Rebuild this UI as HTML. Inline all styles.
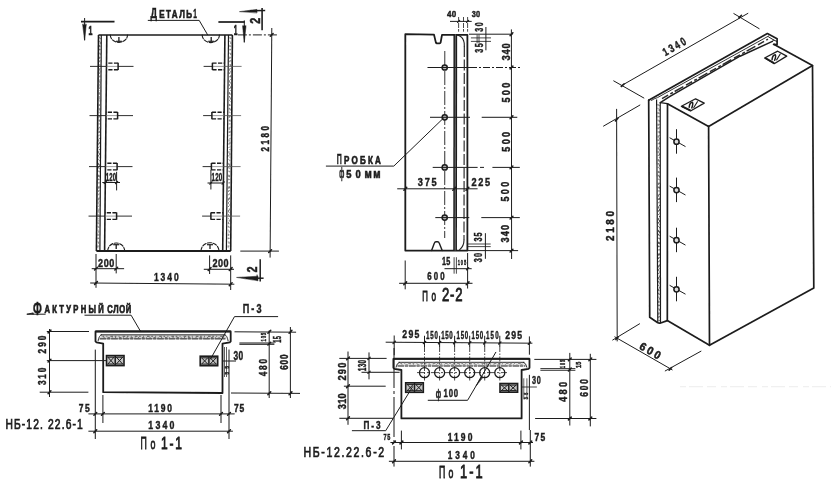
<!DOCTYPE html>
<html><head><meta charset="utf-8"><title>drawing</title>
<style>
html,body{margin:0;padding:0;background:#fff;}
body{width:831px;height:485px;overflow:hidden;font-family:"Liberation Sans",sans-serif;}
svg{display:block;}
svg text{font-family:"Liberation Sans",sans-serif;}
</style></head><body>
<svg width="831" height="485" viewBox="0 0 831 485">
<defs><filter id="soft" x="0" y="0" width="831" height="485" filterUnits="userSpaceOnUse"><feGaussianBlur stdDeviation="0.35"/></filter></defs>
<rect width="831" height="485" fill="#ffffff"/>
<g filter="url(#soft)">
<line x1="98.5" y1="35.0" x2="96.4" y2="251.0" stroke="#1c1c1c" stroke-width="1.6" stroke-linecap="butt"/>
<line x1="101.3" y1="35.0" x2="99.9" y2="251.0" stroke="#1c1c1c" stroke-width="1.2" stroke-linecap="butt"/>
<line x1="106.8" y1="35.0" x2="104.6" y2="251.0" stroke="#1c1c1c" stroke-width="1.6" stroke-linecap="butt"/>
<line x1="224.9" y1="35.0" x2="222.7" y2="251.0" stroke="#1c1c1c" stroke-width="1.6" stroke-linecap="butt"/>
<line x1="228.5" y1="35.0" x2="226.4" y2="251.0" stroke="#1c1c1c" stroke-width="1.2" stroke-linecap="butt"/>
<line x1="232.4" y1="35.0" x2="230.7" y2="251.0" stroke="#1c1c1c" stroke-width="1.6" stroke-linecap="butt"/>
<line x1="99.6" y1="37.0" x2="97.8" y2="249.0" stroke="#555" stroke-width="0.8" stroke-dasharray="1.6 2.3 0.9 3.1 2.2 1.7" stroke-linecap="butt"/>
<line x1="100.4" y1="38.0" x2="98.7" y2="249.0" stroke="#555" stroke-width="0.8" stroke-dasharray="1.1 2.9 2.0 1.9 0.7 2.5" stroke-linecap="butt"/>
<line x1="230.0" y1="37.0" x2="228.1" y2="249.0" stroke="#555" stroke-width="0.8" stroke-dasharray="1.6 2.3 0.9 3.1 2.2 1.7" stroke-linecap="butt"/>
<line x1="230.9" y1="38.0" x2="229.0" y2="249.0" stroke="#555" stroke-width="0.8" stroke-dasharray="1.1 2.9 2.0 1.9 0.7 2.5" stroke-linecap="butt"/>
<line x1="98.5" y1="35.0" x2="232.4" y2="35.0" stroke="#1c1c1c" stroke-width="1.6" stroke-linecap="butt"/>
<line x1="96.4" y1="251.0" x2="230.7" y2="251.0" stroke="#1c1c1c" stroke-width="1.8" stroke-linecap="butt"/>
<path d="M110.3 35 A8.6 7.4 0 0 0 127.5 35" fill="none" stroke="#1c1c1c" stroke-width="1.1" stroke-dasharray="4 1.5" stroke-linejoin="round" stroke-linecap="round"/>
<path d="M202.2 35 A8.6 7.6 0 0 0 219.4 35" fill="none" stroke="#1c1c1c" stroke-width="1.1" stroke-dasharray="4 1.5" stroke-linejoin="round" stroke-linecap="round"/>
<path d="M107.7 251 A8.5 8 0 0 1 124.7 251" fill="none" stroke="#1c1c1c" stroke-width="1.1" stroke-dasharray="4 1.5" stroke-linejoin="round" stroke-linecap="round"/>
<path d="M201 251 A9 8.3 0 0 1 219 251" fill="none" stroke="#1c1c1c" stroke-width="1.1" stroke-dasharray="4 1.5" stroke-linejoin="round" stroke-linecap="round"/>
<line x1="118.9" y1="37.0" x2="118.9" y2="41.3" stroke="#1c1c1c" stroke-width="1.3" stroke-linecap="butt"/>
<line x1="115.9" y1="41.3" x2="121.9" y2="41.3" stroke="#1c1c1c" stroke-width="1.2" stroke-linecap="butt"/>
<line x1="211.2" y1="37.0" x2="211.2" y2="41.3" stroke="#1c1c1c" stroke-width="1.3" stroke-linecap="butt"/>
<line x1="208.2" y1="41.3" x2="214.2" y2="41.3" stroke="#1c1c1c" stroke-width="1.2" stroke-linecap="butt"/>
<line x1="116.2" y1="249.0" x2="116.2" y2="244.7" stroke="#1c1c1c" stroke-width="1.3" stroke-linecap="butt"/>
<line x1="113.2" y1="244.7" x2="119.2" y2="244.7" stroke="#1c1c1c" stroke-width="1.2" stroke-linecap="butt"/>
<line x1="210.0" y1="249.0" x2="210.0" y2="244.7" stroke="#1c1c1c" stroke-width="1.3" stroke-linecap="butt"/>
<line x1="207.0" y1="244.7" x2="213.0" y2="244.7" stroke="#1c1c1c" stroke-width="1.2" stroke-linecap="butt"/>
<line x1="90.0" y1="66.4" x2="106.5" y2="66.4" stroke="#1c1c1c" stroke-width="0.9" stroke-linecap="butt"/>
<line x1="106.5" y1="66.4" x2="118.1" y2="66.4" stroke="#777" stroke-width="0.7" stroke-linecap="butt"/>
<line x1="118.1" y1="66.4" x2="133.5" y2="66.4" stroke="#1c1c1c" stroke-width="0.9" stroke-linecap="butt"/>
<line x1="118.1" y1="62.8" x2="118.1" y2="70.0" stroke="#1c1c1c" stroke-width="1.5" stroke-linecap="butt"/>
<line x1="118.1" y1="63.1" x2="106.5" y2="63.1" stroke="#1c1c1c" stroke-width="1.4" stroke-dasharray="4.2 1.4" stroke-linecap="butt"/>
<line x1="118.1" y1="69.7" x2="106.5" y2="69.7" stroke="#1c1c1c" stroke-width="1.4" stroke-dasharray="4.2 1.4" stroke-linecap="butt"/>
<line x1="203.6" y1="66.4" x2="212.6" y2="66.4" stroke="#1c1c1c" stroke-width="0.9" stroke-linecap="butt"/>
<line x1="212.6" y1="66.4" x2="224.6" y2="66.4" stroke="#777" stroke-width="0.7" stroke-linecap="butt"/>
<line x1="224.6" y1="66.4" x2="241.6" y2="66.4" stroke="#555" stroke-width="0.8" stroke-linecap="butt"/>
<line x1="212.4" y1="62.8" x2="212.4" y2="70.0" stroke="#1c1c1c" stroke-width="1.5" stroke-linecap="butt"/>
<line x1="212.4" y1="63.1" x2="224.6" y2="63.1" stroke="#1c1c1c" stroke-width="1.4" stroke-dasharray="4.2 1.4" stroke-linecap="butt"/>
<line x1="212.4" y1="69.7" x2="224.6" y2="69.7" stroke="#1c1c1c" stroke-width="1.4" stroke-dasharray="4.2 1.4" stroke-linecap="butt"/>
<line x1="89.5" y1="115.6" x2="106.0" y2="115.6" stroke="#1c1c1c" stroke-width="0.9" stroke-linecap="butt"/>
<line x1="106.0" y1="115.6" x2="117.6" y2="115.6" stroke="#777" stroke-width="0.7" stroke-linecap="butt"/>
<line x1="117.6" y1="115.6" x2="133.0" y2="115.6" stroke="#1c1c1c" stroke-width="0.9" stroke-linecap="butt"/>
<line x1="117.6" y1="112.0" x2="117.6" y2="119.2" stroke="#1c1c1c" stroke-width="1.5" stroke-linecap="butt"/>
<line x1="117.6" y1="112.3" x2="106.0" y2="112.3" stroke="#1c1c1c" stroke-width="1.4" stroke-dasharray="4.2 1.4" stroke-linecap="butt"/>
<line x1="117.6" y1="118.9" x2="106.0" y2="118.9" stroke="#1c1c1c" stroke-width="1.4" stroke-dasharray="4.2 1.4" stroke-linecap="butt"/>
<line x1="203.1" y1="115.6" x2="212.1" y2="115.6" stroke="#1c1c1c" stroke-width="0.9" stroke-linecap="butt"/>
<line x1="212.1" y1="115.6" x2="224.1" y2="115.6" stroke="#777" stroke-width="0.7" stroke-linecap="butt"/>
<line x1="224.1" y1="115.6" x2="241.1" y2="115.6" stroke="#555" stroke-width="0.8" stroke-linecap="butt"/>
<line x1="211.9" y1="112.0" x2="211.9" y2="119.2" stroke="#1c1c1c" stroke-width="1.5" stroke-linecap="butt"/>
<line x1="211.9" y1="112.3" x2="224.1" y2="112.3" stroke="#1c1c1c" stroke-width="1.4" stroke-dasharray="4.2 1.4" stroke-linecap="butt"/>
<line x1="211.9" y1="118.9" x2="224.1" y2="118.9" stroke="#1c1c1c" stroke-width="1.4" stroke-dasharray="4.2 1.4" stroke-linecap="butt"/>
<line x1="89.0" y1="166.6" x2="105.5" y2="166.6" stroke="#1c1c1c" stroke-width="0.9" stroke-linecap="butt"/>
<line x1="105.5" y1="166.6" x2="117.1" y2="166.6" stroke="#777" stroke-width="0.7" stroke-linecap="butt"/>
<line x1="117.1" y1="166.6" x2="132.5" y2="166.6" stroke="#1c1c1c" stroke-width="0.9" stroke-linecap="butt"/>
<line x1="117.1" y1="163.0" x2="117.1" y2="170.2" stroke="#1c1c1c" stroke-width="1.5" stroke-linecap="butt"/>
<line x1="117.1" y1="163.3" x2="105.5" y2="163.3" stroke="#1c1c1c" stroke-width="1.4" stroke-dasharray="4.2 1.4" stroke-linecap="butt"/>
<line x1="117.1" y1="169.9" x2="105.5" y2="169.9" stroke="#1c1c1c" stroke-width="1.4" stroke-dasharray="4.2 1.4" stroke-linecap="butt"/>
<line x1="202.6" y1="166.6" x2="211.6" y2="166.6" stroke="#1c1c1c" stroke-width="0.9" stroke-linecap="butt"/>
<line x1="211.6" y1="166.6" x2="223.6" y2="166.6" stroke="#777" stroke-width="0.7" stroke-linecap="butt"/>
<line x1="223.6" y1="166.6" x2="240.6" y2="166.6" stroke="#555" stroke-width="0.8" stroke-linecap="butt"/>
<line x1="211.4" y1="163.0" x2="211.4" y2="170.2" stroke="#1c1c1c" stroke-width="1.5" stroke-linecap="butt"/>
<line x1="211.4" y1="163.3" x2="223.6" y2="163.3" stroke="#1c1c1c" stroke-width="1.4" stroke-dasharray="4.2 1.4" stroke-linecap="butt"/>
<line x1="211.4" y1="169.9" x2="223.6" y2="169.9" stroke="#1c1c1c" stroke-width="1.4" stroke-dasharray="4.2 1.4" stroke-linecap="butt"/>
<line x1="88.5" y1="216.1" x2="105.0" y2="216.1" stroke="#1c1c1c" stroke-width="0.9" stroke-linecap="butt"/>
<line x1="105.0" y1="216.1" x2="116.6" y2="216.1" stroke="#777" stroke-width="0.7" stroke-linecap="butt"/>
<line x1="116.6" y1="216.1" x2="132.0" y2="216.1" stroke="#1c1c1c" stroke-width="0.9" stroke-linecap="butt"/>
<line x1="116.6" y1="212.5" x2="116.6" y2="219.7" stroke="#1c1c1c" stroke-width="1.5" stroke-linecap="butt"/>
<line x1="116.6" y1="212.8" x2="105.0" y2="212.8" stroke="#1c1c1c" stroke-width="1.4" stroke-dasharray="4.2 1.4" stroke-linecap="butt"/>
<line x1="116.6" y1="219.4" x2="105.0" y2="219.4" stroke="#1c1c1c" stroke-width="1.4" stroke-dasharray="4.2 1.4" stroke-linecap="butt"/>
<line x1="202.1" y1="216.1" x2="211.1" y2="216.1" stroke="#1c1c1c" stroke-width="0.9" stroke-linecap="butt"/>
<line x1="211.1" y1="216.1" x2="223.1" y2="216.1" stroke="#777" stroke-width="0.7" stroke-linecap="butt"/>
<line x1="223.1" y1="216.1" x2="240.1" y2="216.1" stroke="#555" stroke-width="0.8" stroke-linecap="butt"/>
<line x1="210.9" y1="212.5" x2="210.9" y2="219.7" stroke="#1c1c1c" stroke-width="1.5" stroke-linecap="butt"/>
<line x1="210.9" y1="212.8" x2="223.1" y2="212.8" stroke="#1c1c1c" stroke-width="1.4" stroke-dasharray="4.2 1.4" stroke-linecap="butt"/>
<line x1="210.9" y1="219.4" x2="223.1" y2="219.4" stroke="#1c1c1c" stroke-width="1.4" stroke-dasharray="4.2 1.4" stroke-linecap="butt"/>
<text transform="translate(105.7 180.9) scale(0.557 1)" font-size="10.75" font-weight="bold" fill="#1c1c1c" stroke="#1c1c1c" stroke-width="0.45" textLength="18.5" lengthAdjust="spacing">120</text>
<line x1="102.3" y1="182.5" x2="120.0" y2="182.5" stroke="#1c1c1c" stroke-width="1.0" stroke-linecap="butt"/>
<line x1="116.6" y1="171.8" x2="116.6" y2="190.4" stroke="#1c1c1c" stroke-width="1.0" stroke-linecap="butt"/>
<line x1="104.2" y1="183.6" x2="106.4" y2="181.4" stroke="#1c1c1c" stroke-width="1.3" stroke-linecap="round"/>
<line x1="115.5" y1="183.6" x2="117.7" y2="181.4" stroke="#1c1c1c" stroke-width="1.3" stroke-linecap="round"/>
<text transform="translate(211.6 181.4) scale(0.573 1)" font-size="10.75" font-weight="bold" fill="#1c1c1c" stroke="#1c1c1c" stroke-width="0.45" textLength="18.5" lengthAdjust="spacing">120</text>
<line x1="207.5" y1="183.0" x2="224.0" y2="183.0" stroke="#1c1c1c" stroke-width="1.0" stroke-linecap="butt"/>
<line x1="210.9" y1="170.0" x2="210.9" y2="189.5" stroke="#1c1c1c" stroke-width="1.0" stroke-linecap="butt"/>
<line x1="209.8" y1="184.1" x2="212.0" y2="181.9" stroke="#1c1c1c" stroke-width="1.3" stroke-linecap="round"/>
<line x1="222.1" y1="184.1" x2="224.3" y2="181.9" stroke="#1c1c1c" stroke-width="1.3" stroke-linecap="round"/>
<line x1="96.0" y1="254.0" x2="96.0" y2="287.8" stroke="#1c1c1c" stroke-width="1.0" stroke-linecap="butt"/>
<line x1="116.2" y1="254.0" x2="116.2" y2="273.4" stroke="#1c1c1c" stroke-width="1.0" stroke-linecap="butt"/>
<line x1="91.7" y1="268.7" x2="124.1" y2="268.7" stroke="#1c1c1c" stroke-width="1.0" stroke-linecap="butt"/>
<line x1="94.6" y1="270.0" x2="97.4" y2="267.2" stroke="#1c1c1c" stroke-width="1.5" stroke-linecap="round"/>
<line x1="114.8" y1="270.0" x2="117.6" y2="267.2" stroke="#1c1c1c" stroke-width="1.5" stroke-linecap="round"/>
<text transform="translate(98.1 266.8) scale(0.800 1)" font-size="11.31" font-weight="bold" fill="#1c1c1c" stroke="#1c1c1c" stroke-width="0.45" textLength="20.3" lengthAdjust="spacing">200</text>
<line x1="209.6" y1="255.4" x2="209.6" y2="274.0" stroke="#1c1c1c" stroke-width="1.0" stroke-linecap="butt"/>
<line x1="230.7" y1="255.4" x2="230.7" y2="290.0" stroke="#1c1c1c" stroke-width="1.0" stroke-linecap="butt"/>
<line x1="203.8" y1="269.3" x2="234.0" y2="269.3" stroke="#1c1c1c" stroke-width="1.0" stroke-linecap="butt"/>
<line x1="208.2" y1="270.4" x2="211.0" y2="267.6" stroke="#1c1c1c" stroke-width="1.5" stroke-linecap="round"/>
<line x1="229.3" y1="270.4" x2="232.1" y2="267.6" stroke="#1c1c1c" stroke-width="1.5" stroke-linecap="round"/>
<text transform="translate(212.6 267.3) scale(0.800 1)" font-size="11.31" font-weight="bold" fill="#1c1c1c" stroke="#1c1c1c" stroke-width="0.45" textLength="19.8" lengthAdjust="spacing">200</text>
<line x1="90.2" y1="283.0" x2="234.3" y2="284.2" stroke="#1c1c1c" stroke-width="1.0" stroke-linecap="butt"/>
<line x1="94.6" y1="284.4" x2="97.4" y2="281.6" stroke="#1c1c1c" stroke-width="1.5" stroke-linecap="round"/>
<line x1="229.3" y1="285.6" x2="232.1" y2="282.8" stroke="#1c1c1c" stroke-width="1.5" stroke-linecap="round"/>
<text transform="translate(153.9 281.2) scale(0.750 1)" font-size="11.31" font-weight="bold" fill="#1c1c1c" stroke="#1c1c1c" stroke-width="0.45" textLength="33.2" lengthAdjust="spacing">1340</text>
<line x1="271.8" y1="28.0" x2="270.1" y2="257.6" stroke="#1c1c1c" stroke-width="1.0" stroke-linecap="butt"/>
<line x1="237.9" y1="34.9" x2="277.0" y2="34.9" stroke="#1c1c1c" stroke-width="1.0" stroke-dasharray="9 2 2 2" stroke-linecap="butt"/>
<line x1="240.3" y1="251.1" x2="278.9" y2="251.1" stroke="#1c1c1c" stroke-width="1.0" stroke-linecap="butt"/>
<line x1="270.3" y1="36.3" x2="273.1" y2="33.5" stroke="#1c1c1c" stroke-width="1.5" stroke-linecap="round"/>
<line x1="268.7" y1="252.5" x2="271.5" y2="249.7" stroke="#1c1c1c" stroke-width="1.5" stroke-linecap="round"/>
<text transform="translate(268.7 151.6) rotate(-90) scale(0.780 1)" font-size="10.34" font-weight="bold" fill="#1c1c1c" stroke="#1c1c1c" stroke-width="0.45" textLength="32.8" lengthAdjust="spacing">2180</text>
<line x1="81.0" y1="21.7" x2="114.5" y2="21.7" stroke="#1c1c1c" stroke-width="1.7" stroke-linecap="butt"/>
<line x1="84.6" y1="18.0" x2="84.6" y2="40.0" stroke="#1c1c1c" stroke-width="1.0" stroke-linecap="butt"/>
<path d="M82.6 24.5 L84.6 40.5 L86.3 24.5 Z" fill="#1c1c1c" stroke="#1c1c1c" stroke-width="0.5" stroke-linejoin="round" stroke-linecap="round"/>
<text transform="translate(88.6 34.7) scale(0.574 1)" font-size="12.15" font-weight="bold" fill="#1c1c1c" stroke="#1c1c1c" stroke-width="0.7" textLength="7.0" lengthAdjust="spacing">1</text>
<line x1="218.4" y1="22.0" x2="244.8" y2="22.0" stroke="#1c1c1c" stroke-width="1.7" stroke-linecap="butt"/>
<line x1="244.3" y1="20.4" x2="244.3" y2="42.0" stroke="#1c1c1c" stroke-width="1.0" stroke-linecap="butt"/>
<path d="M242.6 26 L244.3 42.6 L246 26 Z" fill="#1c1c1c" stroke="#1c1c1c" stroke-width="0.5" stroke-linejoin="round" stroke-linecap="round"/>
<text transform="translate(233.8 34.6) scale(0.475 1)" font-size="13.97" font-weight="bold" fill="#1c1c1c" stroke="#1c1c1c" stroke-width="0.7" textLength="8.0" lengthAdjust="spacing">1</text>
<line x1="250.0" y1="10.7" x2="265.2" y2="10.4" stroke="#1c1c1c" stroke-width="1.5" stroke-linecap="butt"/>
<line x1="262.1" y1="8.0" x2="262.1" y2="30.3" stroke="#1c1c1c" stroke-width="1.6" stroke-linecap="butt"/>
<path d="M239.8 11.6 L257 9.4 L257 12.6 Z" fill="#1c1c1c" stroke="#1c1c1c" stroke-width="0.5" stroke-linejoin="round" stroke-linecap="round"/>
<text transform="translate(259.6 23.8) rotate(-90) scale(0.737 1)" font-size="14.66" font-weight="bold" fill="#1c1c1c" stroke="#1c1c1c" stroke-width="0.5" textLength="8.4" lengthAdjust="spacing">2</text>
<line x1="246.0" y1="278.2" x2="263.6" y2="278.2" stroke="#1c1c1c" stroke-width="1.5" stroke-linecap="butt"/>
<line x1="260.2" y1="259.3" x2="260.2" y2="281.4" stroke="#1c1c1c" stroke-width="1.5" stroke-linecap="butt"/>
<path d="M236.9 277.4 L258 276.2 L258 280.4 Z" fill="#1c1c1c" stroke="#1c1c1c" stroke-width="0.5" stroke-linejoin="round" stroke-linecap="round"/>
<line x1="257.1" y1="274.6" x2="257.1" y2="280.8" stroke="#1c1c1c" stroke-width="0.9" stroke-linecap="butt"/>
<text transform="translate(257.3 272.6) rotate(-90) scale(0.759 1)" font-size="14.25" font-weight="bold" fill="#1c1c1c" stroke="#1c1c1c" stroke-width="0.5" textLength="8.2" lengthAdjust="spacing">2</text>
<text transform="translate(150.6 18.4) scale(0.653 1)" font-size="13.97" font-weight="bold" fill="#1c1c1c" stroke="#1c1c1c" stroke-width="0.45" textLength="10.3" lengthAdjust="spacing">Д</text>
<text transform="translate(159.2 18.4) scale(0.720 1)" font-size="11.17" font-weight="bold" fill="#1c1c1c" stroke="#1c1c1c" stroke-width="0.7" textLength="45.6" lengthAdjust="spacing">ЕТАЛЬ</text>
<text transform="translate(193.2 18.3) scale(0.516 1)" font-size="12.85" font-weight="bold" fill="#1c1c1c" stroke="#1c1c1c" stroke-width="0.5" textLength="7.4" lengthAdjust="spacing">1</text>
<path d="M148.2 20.4 H199.2 L207.6 34.8" fill="none" stroke="#1c1c1c" stroke-width="1.0" stroke-linejoin="round" stroke-linecap="round"/>
<path d="M103.2 392.2 V343.6 L96.5 342.4 L95.5 341.4 V331.4 H230.7 V341.4 L229.7 342.4 L222.5 343.6 V393.0 Z" fill="none" stroke="#1c1c1c" stroke-width="1.8" stroke-linejoin="round" stroke-linecap="round"/>
<line x1="95.5" y1="331.4" x2="230.7" y2="331.4" stroke="#1c1c1c" stroke-width="2.0" stroke-linecap="butt"/>
<path d="M101.5 334.8 H224.7 L226.7 338.9 H99.5 Z" fill="#cfcfcf" stroke="none"/>
<path d="M101.0 334.8 H225.2" fill="none" stroke="#1c1c1c" stroke-width="0.9" stroke-linejoin="round" stroke-linecap="round"/>
<path d="M98.1 340.8 Q98.9 335.40000000000003 101.5 334.8 M228.1 340.8 Q227.29999999999998 335.40000000000003 224.7 334.8" fill="none" stroke="#1c1c1c" stroke-width="0.9" stroke-linejoin="round" stroke-linecap="round"/>
<path d="M100.0 338.9 H226.2" fill="none" stroke="#1c1c1c" stroke-width="1.0" stroke-dasharray="6 1.5 2.5 1.5" stroke-linejoin="round" stroke-linecap="round"/>
<line x1="102.5" y1="336.2" x2="223.7" y2="336.2" stroke="#555" stroke-width="1.1" stroke-dasharray="1.6 2.3 0.9 3.1 2.6 1.7" stroke-linecap="butt"/>
<line x1="103.5" y1="337.7" x2="223.7" y2="337.7" stroke="#555" stroke-width="1.1" stroke-dasharray="1.1 2.9 2.4 1.9 0.7 2.5" stroke-linecap="butt"/>
<rect x="106.5" y="355.6" width="17.5" height="10.0" fill="#c4c4c4" stroke="#1c1c1c" stroke-width="1.6"/>
<line x1="115.2" y1="355.6" x2="115.2" y2="365.6" stroke="#1c1c1c" stroke-width="1.5" stroke-linecap="butt"/>
<path d="M107.7 357.0 L114.2 364.20000000000005 M107.7 364.20000000000005 L114.2 357.0" fill="none" stroke="#1c1c1c" stroke-width="1.0" stroke-linejoin="round" stroke-linecap="round"/>
<line x1="107.7" y1="357.2" x2="114.2" y2="357.2" stroke="#1c1c1c" stroke-width="1.0" stroke-linecap="butt"/>
<line x1="107.7" y1="364.0" x2="114.2" y2="364.0" stroke="#1c1c1c" stroke-width="1.0" stroke-linecap="butt"/>
<path d="M116.2 357.0 L122.8 364.20000000000005 M116.2 364.20000000000005 L122.8 357.0" fill="none" stroke="#1c1c1c" stroke-width="1.0" stroke-linejoin="round" stroke-linecap="round"/>
<line x1="116.2" y1="357.2" x2="122.8" y2="357.2" stroke="#1c1c1c" stroke-width="1.0" stroke-linecap="butt"/>
<line x1="116.2" y1="364.0" x2="122.8" y2="364.0" stroke="#1c1c1c" stroke-width="1.0" stroke-linecap="butt"/>
<rect x="200.2" y="356.2" width="17.5" height="9.5" fill="#c4c4c4" stroke="#1c1c1c" stroke-width="1.6"/>
<line x1="208.9" y1="356.2" x2="208.9" y2="365.7" stroke="#1c1c1c" stroke-width="1.5" stroke-linecap="butt"/>
<path d="M201.4 357.59999999999997 L207.9 364.3 M201.4 364.3 L207.9 357.59999999999997" fill="none" stroke="#1c1c1c" stroke-width="1.0" stroke-linejoin="round" stroke-linecap="round"/>
<line x1="201.4" y1="357.8" x2="207.9" y2="357.8" stroke="#1c1c1c" stroke-width="1.0" stroke-linecap="butt"/>
<line x1="201.4" y1="364.1" x2="207.9" y2="364.1" stroke="#1c1c1c" stroke-width="1.0" stroke-linecap="butt"/>
<path d="M209.9 357.59999999999997 L216.5 364.3 M209.9 364.3 L216.5 357.59999999999997" fill="none" stroke="#1c1c1c" stroke-width="1.0" stroke-linejoin="round" stroke-linecap="round"/>
<line x1="209.9" y1="357.8" x2="216.5" y2="357.8" stroke="#1c1c1c" stroke-width="1.0" stroke-linecap="butt"/>
<line x1="209.9" y1="364.1" x2="216.5" y2="364.1" stroke="#1c1c1c" stroke-width="1.0" stroke-linecap="butt"/>
<line x1="49.5" y1="329.0" x2="49.5" y2="397.0" stroke="#1c1c1c" stroke-width="1.0" stroke-linecap="butt"/>
<line x1="46.8" y1="331.5" x2="89.0" y2="331.5" stroke="#1c1c1c" stroke-width="1.0" stroke-linecap="butt"/>
<line x1="46.8" y1="360.6" x2="106.6" y2="360.6" stroke="#1c1c1c" stroke-width="1.0" stroke-linecap="butt"/>
<line x1="39.7" y1="392.2" x2="88.4" y2="392.2" stroke="#1c1c1c" stroke-width="1.0" stroke-linecap="butt"/>
<line x1="48.1" y1="332.9" x2="50.9" y2="330.1" stroke="#1c1c1c" stroke-width="1.5" stroke-linecap="round"/>
<line x1="48.1" y1="362.0" x2="50.9" y2="359.2" stroke="#1c1c1c" stroke-width="1.5" stroke-linecap="round"/>
<line x1="48.1" y1="393.6" x2="50.9" y2="390.8" stroke="#1c1c1c" stroke-width="1.5" stroke-linecap="round"/>
<text transform="translate(46.0 353.4) rotate(-90) scale(0.800 1)" font-size="10.34" font-weight="bold" fill="#1c1c1c" stroke="#1c1c1c" stroke-width="0.45" textLength="22.2" lengthAdjust="spacing">290</text>
<text transform="translate(46.0 385.0) rotate(-90) scale(0.800 1)" font-size="10.34" font-weight="bold" fill="#1c1c1c" stroke="#1c1c1c" stroke-width="0.45" textLength="21.7" lengthAdjust="spacing">310</text>
<line x1="95.3" y1="349.6" x2="95.3" y2="439.0" stroke="#1c1c1c" stroke-width="1.0" stroke-linecap="butt"/>
<line x1="229.0" y1="349.6" x2="229.0" y2="439.0" stroke="#1c1c1c" stroke-width="1.0" stroke-linecap="butt"/>
<line x1="102.9" y1="395.0" x2="102.9" y2="423.0" stroke="#1c1c1c" stroke-width="1.0" stroke-linecap="butt"/>
<line x1="221.0" y1="395.0" x2="221.0" y2="423.0" stroke="#1c1c1c" stroke-width="1.0" stroke-linecap="butt"/>
<line x1="88.4" y1="413.9" x2="234.7" y2="413.9" stroke="#1c1c1c" stroke-width="1.0" stroke-linecap="butt"/>
<line x1="93.9" y1="415.3" x2="96.7" y2="412.5" stroke="#1c1c1c" stroke-width="1.5" stroke-linecap="round"/>
<line x1="101.5" y1="415.3" x2="104.3" y2="412.5" stroke="#1c1c1c" stroke-width="1.5" stroke-linecap="round"/>
<line x1="219.6" y1="415.3" x2="222.4" y2="412.5" stroke="#1c1c1c" stroke-width="1.5" stroke-linecap="round"/>
<line x1="227.6" y1="415.3" x2="230.4" y2="412.5" stroke="#1c1c1c" stroke-width="1.5" stroke-linecap="round"/>
<line x1="88.4" y1="431.2" x2="232.9" y2="431.2" stroke="#1c1c1c" stroke-width="1.0" stroke-linecap="butt"/>
<line x1="93.9" y1="432.6" x2="96.7" y2="429.8" stroke="#1c1c1c" stroke-width="1.5" stroke-linecap="round"/>
<line x1="227.6" y1="432.6" x2="230.4" y2="429.8" stroke="#1c1c1c" stroke-width="1.5" stroke-linecap="round"/>
<text transform="translate(78.8 411.6) scale(0.800 1)" font-size="10.61" font-weight="bold" fill="#1c1c1c" stroke="#1c1c1c" stroke-width="0.45" textLength="13.6" lengthAdjust="spacing">75</text>
<text transform="translate(148.3 411.6) scale(0.800 1)" font-size="10.61" font-weight="bold" fill="#1c1c1c" stroke="#1c1c1c" stroke-width="0.45" textLength="29.7" lengthAdjust="spacing">1190</text>
<text transform="translate(234.1 411.6) scale(0.800 1)" font-size="10.61" font-weight="bold" fill="#1c1c1c" stroke="#1c1c1c" stroke-width="0.45" textLength="12.8" lengthAdjust="spacing">75</text>
<text transform="translate(148.3 429.0) scale(0.750 1)" font-size="11.73" font-weight="bold" fill="#1c1c1c" stroke="#1c1c1c" stroke-width="0.45" textLength="34.9" lengthAdjust="spacing">1340</text>
<text transform="translate(5.4 428.7) scale(0.720 1)" font-size="14.25" font-weight="normal" fill="#1c1c1c" stroke="#1c1c1c" stroke-width="0.75" textLength="107.4" lengthAdjust="spacing">НБ-12. 22.6-1</text>
<text transform="translate(140.5 448.5) scale(0.551 1)" font-size="15.92" font-weight="normal" fill="#1c1c1c" stroke="#1c1c1c" stroke-width="0.8" textLength="11.8" lengthAdjust="spacing">П</text>
<text transform="translate(150.5 448.5) scale(0.600 1)" font-size="14.80" font-weight="normal" fill="#1c1c1c" stroke="#1c1c1c" stroke-width="0.8" textLength="9.2" lengthAdjust="spacing">о</text>
<text transform="translate(161.0 448.5) scale(0.700 1)" font-size="17.18" font-weight="normal" fill="#1c1c1c" stroke="#1c1c1c" stroke-width="0.85" textLength="30.0" lengthAdjust="spacing">1-1</text>
<line x1="269.2" y1="330.4" x2="269.2" y2="398.0" stroke="#1c1c1c" stroke-width="1.0" stroke-linecap="butt"/>
<line x1="290.4" y1="327.0" x2="290.4" y2="398.0" stroke="#1c1c1c" stroke-width="1.0" stroke-linecap="butt"/>
<line x1="234.5" y1="331.8" x2="296.1" y2="332.2" stroke="#1c1c1c" stroke-width="1.0" stroke-linecap="butt"/>
<line x1="239.4" y1="343.0" x2="274.4" y2="343.0" stroke="#1c1c1c" stroke-width="1.0" stroke-linecap="butt"/>
<line x1="239.4" y1="344.3" x2="274.4" y2="344.3" stroke="#1c1c1c" stroke-width="1.0" stroke-linecap="butt"/>
<line x1="231.0" y1="393.0" x2="300.0" y2="393.4" stroke="#1c1c1c" stroke-width="1.0" stroke-linecap="butt"/>
<line x1="267.9" y1="333.2" x2="270.7" y2="330.4" stroke="#1c1c1c" stroke-width="1.5" stroke-linecap="round"/>
<line x1="289.1" y1="333.2" x2="291.9" y2="330.4" stroke="#1c1c1c" stroke-width="1.5" stroke-linecap="round"/>
<line x1="267.9" y1="345.0" x2="270.7" y2="342.2" stroke="#1c1c1c" stroke-width="1.5" stroke-linecap="round"/>
<line x1="267.9" y1="394.6" x2="270.7" y2="391.8" stroke="#1c1c1c" stroke-width="1.5" stroke-linecap="round"/>
<line x1="289.1" y1="394.7" x2="291.9" y2="391.9" stroke="#1c1c1c" stroke-width="1.5" stroke-linecap="round"/>
<text transform="translate(265.8 341.5) rotate(-90) scale(0.550 1)" font-size="7.54" font-weight="bold" fill="#1c1c1c" stroke="#1c1c1c" stroke-width="0.45" textLength="15.6" lengthAdjust="spacing">105</text>
<text transform="translate(281.0 342.8) rotate(-90) scale(0.565 1)" font-size="10.34" font-weight="bold" fill="#1c1c1c" stroke="#1c1c1c" stroke-width="0.45" textLength="11.9" lengthAdjust="spacing">15</text>
<text transform="translate(266.9 376.3) rotate(-90) scale(0.800 1)" font-size="10.47" font-weight="bold" fill="#1c1c1c" stroke="#1c1c1c" stroke-width="0.45" textLength="21.9" lengthAdjust="spacing">480</text>
<text transform="translate(288.2 369.8) rotate(-90) scale(0.800 1)" font-size="10.20" font-weight="bold" fill="#1c1c1c" stroke="#1c1c1c" stroke-width="0.45" textLength="19.1" lengthAdjust="spacing">600</text>
<text transform="translate(233.4 359.9) scale(0.700 1)" font-size="12.01" font-weight="bold" fill="#1c1c1c" stroke="#1c1c1c" stroke-width="0.45" textLength="13.9" lengthAdjust="spacing">30</text>
<line x1="229.0" y1="361.0" x2="236.0" y2="361.0" stroke="#1c1c1c" stroke-width="1.0" stroke-linecap="butt"/>
<line x1="222.5" y1="361.0" x2="229.0" y2="361.0" stroke="#1c1c1c" stroke-width="1.0" stroke-linecap="butt"/>
<line x1="224.5" y1="347.0" x2="224.5" y2="377.0" stroke="#1c1c1c" stroke-width="0.7" stroke-linecap="butt"/>
<line x1="226.5" y1="347.0" x2="226.5" y2="377.0" stroke="#1c1c1c" stroke-width="0.7" stroke-linecap="butt"/>
<text transform="translate(228.5 374.5) rotate(-90) scale(0.800 1)" font-size="5.59" font-weight="bold" fill="#1c1c1c" stroke="#1c1c1c" stroke-width="0.45" textLength="10.6" lengthAdjust="spacing">35</text>
<text transform="translate(32.9 315.0) scale(0.588 1)" font-size="17.60" font-weight="bold" fill="#1c1c1c" stroke="#1c1c1c" stroke-width="0.45" textLength="15.5" lengthAdjust="spacing">Ф</text>
<text transform="translate(44.5 313.3) scale(0.720 1)" font-size="10.61" font-weight="bold" fill="#1c1c1c" stroke="#1c1c1c" stroke-width="0.7" textLength="82.2" lengthAdjust="spacing">АКТУРНЫЙ</text>
<text transform="translate(107.3 313.3) scale(0.720 1)" font-size="10.61" font-weight="bold" fill="#1c1c1c" stroke="#1c1c1c" stroke-width="0.7" textLength="33.1" lengthAdjust="spacing">СЛОЙ</text>
<path d="M27.2 314.2 H45.2 M84.9 315.2 H131.1 L140.5 331.3" fill="none" stroke="#1c1c1c" stroke-width="1.0" stroke-linejoin="round" stroke-linecap="round"/>
<path d="M27.2 314.2 l6 -1.3 v1.3" fill="#1c1c1c" stroke="#1c1c1c" stroke-width="0.9" stroke-linejoin="round" stroke-linecap="round"/>
<text transform="translate(242.7 313.4) scale(0.700 1)" font-size="12.99" font-weight="bold" fill="#1c1c1c" stroke="#1c1c1c" stroke-width="0.45" textLength="26.9" lengthAdjust="spacing">П-3</text>
<path d="M277.7 316.6 H234.5 L210.5 359" fill="none" stroke="#1c1c1c" stroke-width="1.0" stroke-linejoin="round" stroke-linecap="round"/>
<path d="M405.3 250.6 V34.2 L434 34.6 L435.9 42.6 Q436.2 43.4 437 43.4 H439.6 Q440.4 43.4 440.6 42.6 L442 34.800000000000004 H467.4 V250.6 H405.3" fill="none" stroke="#1c1c1c" stroke-width="1.8" stroke-linejoin="round" stroke-linecap="round"/>
<path d="M431.6 250.6 L434.4 243 Q434.8 241.8 436 241.8 H437.6 Q438.8 241.8 439.2 243 L442.2 250.6" fill="none" stroke="#1c1c1c" stroke-width="1.4" stroke-linejoin="round" stroke-linecap="round"/>
<line x1="455.4" y1="34.2" x2="455.1" y2="250.6" stroke="#6a6a6a" stroke-width="1.4" stroke-linecap="butt"/>
<line x1="454.2" y1="34.2" x2="454.0" y2="250.6" stroke="#1c1c1c" stroke-width="1.5" stroke-linecap="butt"/>
<line x1="456.5" y1="34.2" x2="456.3" y2="250.6" stroke="#1c1c1c" stroke-width="1.3" stroke-linecap="butt"/>
<path d="M457.6 35.0 L460.2 36.2 Q463.4 38.2 464.2 43 L464.3 46" fill="none" stroke="#1c1c1c" stroke-width="1.1" stroke-linejoin="round" stroke-linecap="round"/>
<line x1="464.3" y1="46.0" x2="464.0" y2="240.0" stroke="#1c1c1c" stroke-width="1.1" stroke-dasharray="11 2.5" stroke-linecap="butt"/>
<path d="M464.0 240 Q464 246 459.7 249.7" fill="none" stroke="#1c1c1c" stroke-width="1.1" stroke-linejoin="round" stroke-linecap="round"/>
<line x1="444.8" y1="51.0" x2="444.7" y2="238.0" stroke="#1c1c1c" stroke-width="0.9" stroke-dasharray="14 2 2 2" stroke-linecap="butt"/>
<circle cx="444.7" cy="67.5" r="2.6" fill="#bbb" stroke="#1c1c1c" stroke-width="1.5"/>
<circle cx="444.7" cy="117.3" r="2.6" fill="#bbb" stroke="#1c1c1c" stroke-width="1.5"/>
<circle cx="444.7" cy="167.4" r="2.6" fill="#bbb" stroke="#1c1c1c" stroke-width="1.5"/>
<circle cx="444.7" cy="217.6" r="2.6" fill="#bbb" stroke="#1c1c1c" stroke-width="1.5"/>
<line x1="427.5" y1="67.5" x2="470.0" y2="67.5" stroke="#1c1c1c" stroke-width="1.0" stroke-linecap="butt"/>
<line x1="470.0" y1="67.5" x2="521.3" y2="67.5" stroke="#1c1c1c" stroke-width="1.0" stroke-dasharray="7 2 2 2" stroke-linecap="butt"/>
<line x1="430.0" y1="117.3" x2="470.0" y2="117.3" stroke="#1c1c1c" stroke-width="1.0" stroke-linecap="butt"/>
<line x1="481.7" y1="117.3" x2="517.3" y2="117.3" stroke="#1c1c1c" stroke-width="1.0" stroke-linecap="butt"/>
<line x1="432.7" y1="167.4" x2="477.6" y2="167.4" stroke="#1c1c1c" stroke-width="1.0" stroke-linecap="butt"/>
<line x1="480.0" y1="167.4" x2="484.0" y2="167.4" stroke="#1c1c1c" stroke-width="1.0" stroke-linecap="butt"/>
<line x1="492.4" y1="167.4" x2="519.8" y2="167.4" stroke="#1c1c1c" stroke-width="1.0" stroke-linecap="butt"/>
<line x1="435.3" y1="217.6" x2="469.3" y2="217.6" stroke="#1c1c1c" stroke-width="1.0" stroke-linecap="butt"/>
<line x1="481.3" y1="217.6" x2="519.8" y2="217.6" stroke="#1c1c1c" stroke-width="1.0" stroke-linecap="butt"/>
<line x1="511.4" y1="29.4" x2="511.6" y2="259.0" stroke="#1c1c1c" stroke-width="1.0" stroke-linecap="butt"/>
<line x1="469.0" y1="34.2" x2="512.6" y2="34.2" stroke="#1c1c1c" stroke-width="1.0" stroke-linecap="butt"/>
<line x1="468.0" y1="250.6" x2="518.1" y2="250.6" stroke="#1c1c1c" stroke-width="1.0" stroke-linecap="butt"/>
<line x1="510.1" y1="35.6" x2="512.9" y2="32.8" stroke="#1c1c1c" stroke-width="1.5" stroke-linecap="round"/>
<line x1="510.1" y1="68.9" x2="512.9" y2="66.1" stroke="#1c1c1c" stroke-width="1.5" stroke-linecap="round"/>
<line x1="510.1" y1="118.7" x2="512.9" y2="115.9" stroke="#1c1c1c" stroke-width="1.5" stroke-linecap="round"/>
<line x1="510.1" y1="168.8" x2="512.9" y2="166.0" stroke="#1c1c1c" stroke-width="1.5" stroke-linecap="round"/>
<line x1="510.1" y1="219.0" x2="512.9" y2="216.2" stroke="#1c1c1c" stroke-width="1.5" stroke-linecap="round"/>
<line x1="510.1" y1="252.0" x2="512.9" y2="249.2" stroke="#1c1c1c" stroke-width="1.5" stroke-linecap="round"/>
<text transform="translate(509.5 60.5) rotate(-90) scale(0.800 1)" font-size="11.73" font-weight="bold" fill="#1c1c1c" stroke="#1c1c1c" stroke-width="0.45" textLength="21.5" lengthAdjust="spacing">340</text>
<text transform="translate(509.5 102.6) rotate(-90) scale(0.800 1)" font-size="11.45" font-weight="bold" fill="#1c1c1c" stroke="#1c1c1c" stroke-width="0.45" textLength="25.0" lengthAdjust="spacing">500</text>
<text transform="translate(509.5 151.8) rotate(-90) scale(0.800 1)" font-size="11.45" font-weight="bold" fill="#1c1c1c" stroke="#1c1c1c" stroke-width="0.45" textLength="25.0" lengthAdjust="spacing">500</text>
<text transform="translate(509.4 201.4) rotate(-90) scale(0.800 1)" font-size="11.31" font-weight="bold" fill="#1c1c1c" stroke="#1c1c1c" stroke-width="0.45" textLength="24.5" lengthAdjust="spacing">500</text>
<text transform="translate(508.8 242.4) rotate(-90) scale(0.800 1)" font-size="11.45" font-weight="bold" fill="#1c1c1c" stroke="#1c1c1c" stroke-width="0.45" textLength="21.8" lengthAdjust="spacing">340</text>
<text transform="translate(447.0 17.3) scale(0.833 1)" font-size="9.64" font-weight="bold" fill="#1c1c1c" stroke="#1c1c1c" stroke-width="0.45" textLength="11.1" lengthAdjust="spacing">40</text>
<text transform="translate(471.7 17.3) scale(0.769 1)" font-size="9.64" font-weight="bold" fill="#1c1c1c" stroke="#1c1c1c" stroke-width="0.45" textLength="11.1" lengthAdjust="spacing">30</text>
<line x1="450.0" y1="21.4" x2="471.7" y2="21.4" stroke="#1c1c1c" stroke-width="1.0" stroke-linecap="butt"/>
<line x1="458.6" y1="17.0" x2="458.6" y2="31.7" stroke="#1c1c1c" stroke-width="0.8" stroke-dasharray="5 1" stroke-linecap="butt"/>
<line x1="463.5" y1="17.0" x2="463.5" y2="31.7" stroke="#1c1c1c" stroke-width="0.8" stroke-dasharray="5 1" stroke-linecap="butt"/>
<line x1="467.6" y1="17.0" x2="467.6" y2="31.7" stroke="#1c1c1c" stroke-width="0.8" stroke-dasharray="5 1" stroke-linecap="butt"/>
<line x1="457.6" y1="22.4" x2="459.6" y2="20.4" stroke="#1c1c1c" stroke-width="1.3" stroke-linecap="round"/>
<line x1="466.6" y1="22.4" x2="468.6" y2="20.4" stroke="#1c1c1c" stroke-width="1.3" stroke-linecap="round"/>
<line x1="485.9" y1="27.0" x2="485.9" y2="50.3" stroke="#1c1c1c" stroke-width="1.0" stroke-linecap="butt"/>
<line x1="470.9" y1="37.9" x2="491.0" y2="37.9" stroke="#1c1c1c" stroke-width="0.8" stroke-linecap="butt"/>
<line x1="470.9" y1="41.4" x2="491.0" y2="41.4" stroke="#1c1c1c" stroke-width="0.8" stroke-linecap="butt"/>
<line x1="477.1" y1="34.8" x2="477.1" y2="43.3" stroke="#1c1c1c" stroke-width="0.8" stroke-linecap="butt"/>
<line x1="479.0" y1="34.8" x2="479.0" y2="43.3" stroke="#1c1c1c" stroke-width="0.8" stroke-linecap="butt"/>
<text transform="translate(482.5 31.8) rotate(-90) scale(0.700 1)" font-size="10.06" font-weight="bold" fill="#1c1c1c" stroke="#1c1c1c" stroke-width="0.45" textLength="13.4" lengthAdjust="spacing">30</text>
<text transform="translate(482.5 52.7) rotate(-90) scale(0.700 1)" font-size="10.06" font-weight="bold" fill="#1c1c1c" stroke="#1c1c1c" stroke-width="0.45" textLength="13.4" lengthAdjust="spacing">35</text>
<line x1="485.4" y1="233.2" x2="485.4" y2="258.8" stroke="#1c1c1c" stroke-width="1.0" stroke-linecap="butt"/>
<line x1="467.6" y1="244.0" x2="490.7" y2="244.0" stroke="#1c1c1c" stroke-width="0.8" stroke-linecap="butt"/>
<line x1="467.6" y1="246.6" x2="490.7" y2="246.6" stroke="#1c1c1c" stroke-width="0.8" stroke-linecap="butt"/>
<text transform="translate(481.6 241.6) rotate(-90) scale(0.700 1)" font-size="10.34" font-weight="bold" fill="#1c1c1c" stroke="#1c1c1c" stroke-width="0.45" textLength="13.1" lengthAdjust="spacing">35</text>
<text transform="translate(481.6 262.2) rotate(-90) scale(0.700 1)" font-size="10.34" font-weight="bold" fill="#1c1c1c" stroke="#1c1c1c" stroke-width="0.45" textLength="13.1" lengthAdjust="spacing">30</text>
<line x1="397.2" y1="188.8" x2="477.6" y2="188.8" stroke="#1c1c1c" stroke-width="1.0" stroke-linecap="butt"/>
<line x1="403.9" y1="190.2" x2="406.7" y2="187.4" stroke="#1c1c1c" stroke-width="1.5" stroke-linecap="round"/>
<line x1="452.8" y1="190.2" x2="455.6" y2="187.4" stroke="#1c1c1c" stroke-width="1.5" stroke-linecap="round"/>
<line x1="466.0" y1="190.2" x2="468.8" y2="187.4" stroke="#1c1c1c" stroke-width="1.5" stroke-linecap="round"/>
<text transform="translate(417.8 185.8) scale(0.800 1)" font-size="11.45" font-weight="bold" fill="#1c1c1c" stroke="#1c1c1c" stroke-width="0.45" textLength="23.5" lengthAdjust="spacing">375</text>
<text transform="translate(471.4 185.8) scale(0.800 1)" font-size="11.45" font-weight="bold" fill="#1c1c1c" stroke="#1c1c1c" stroke-width="0.45" textLength="23.3" lengthAdjust="spacing">225</text>
<text transform="translate(442.0 264.6) scale(0.700 1)" font-size="10.34" font-weight="bold" fill="#1c1c1c" stroke="#1c1c1c" stroke-width="0.45" textLength="11.9" lengthAdjust="spacing">15</text>
<text transform="translate(457.7 264.6) scale(0.500 1)" font-size="8.10" font-weight="bold" fill="#1c1c1c" stroke="#1c1c1c" stroke-width="0.45" textLength="17.2" lengthAdjust="spacing">105</text>
<line x1="444.5" y1="268.7" x2="471.7" y2="268.7" stroke="#1c1c1c" stroke-width="1.0" stroke-linecap="butt"/>
<line x1="454.1" y1="257.2" x2="454.1" y2="273.7" stroke="#1c1c1c" stroke-width="0.8" stroke-linecap="butt"/>
<line x1="456.4" y1="257.2" x2="456.4" y2="273.7" stroke="#1c1c1c" stroke-width="0.8" stroke-linecap="butt"/>
<line x1="467.6" y1="253.0" x2="467.6" y2="288.5" stroke="#1c1c1c" stroke-width="1.0" stroke-linecap="butt"/>
<line x1="405.2" y1="260.5" x2="405.2" y2="289.3" stroke="#1c1c1c" stroke-width="1.0" stroke-linecap="butt"/>
<line x1="399.1" y1="283.3" x2="472.5" y2="283.3" stroke="#1c1c1c" stroke-width="1.0" stroke-linecap="butt"/>
<line x1="403.8" y1="284.7" x2="406.6" y2="281.9" stroke="#1c1c1c" stroke-width="1.5" stroke-linecap="round"/>
<line x1="466.2" y1="284.7" x2="469.0" y2="281.9" stroke="#1c1c1c" stroke-width="1.5" stroke-linecap="round"/>
<line x1="466.6" y1="269.7" x2="468.6" y2="267.7" stroke="#1c1c1c" stroke-width="1.3" stroke-linecap="round"/>
<text transform="translate(427.2 280.3) scale(0.750 1)" font-size="10.47" font-weight="bold" fill="#1c1c1c" stroke="#1c1c1c" stroke-width="0.45" textLength="23.1" lengthAdjust="spacing">600</text>
<text transform="translate(422.2 300.9) scale(0.524 1)" font-size="14.94" font-weight="normal" fill="#1c1c1c" stroke="#1c1c1c" stroke-width="0.8" textLength="11.1" lengthAdjust="spacing">П</text>
<text transform="translate(431.5 300.9) scale(0.575 1)" font-size="14.25" font-weight="normal" fill="#1c1c1c" stroke="#1c1c1c" stroke-width="0.8" textLength="8.2" lengthAdjust="spacing">о</text>
<text transform="translate(442.0 301.2) scale(0.700 1)" font-size="18.72" font-weight="normal" fill="#1c1c1c" stroke="#1c1c1c" stroke-width="0.85" textLength="29.4" lengthAdjust="spacing">2-2</text>
<text transform="translate(336.8 163.6) scale(0.465 1)" font-size="15.08" font-weight="bold" fill="#1c1c1c" stroke="#1c1c1c" stroke-width="0.45" textLength="11.2" lengthAdjust="spacing">П</text>
<text transform="translate(344.1 163.6) scale(0.720 1)" font-size="11.17" font-weight="bold" fill="#1c1c1c" stroke="#1c1c1c" stroke-width="0.7" textLength="51.0" lengthAdjust="spacing">РОБКА</text>
<text transform="translate(339.3 177.8) scale(0.413 1)" font-size="13.97" font-weight="bold" fill="#1c1c1c" stroke="#1c1c1c" stroke-width="0.45" textLength="12.6" lengthAdjust="spacing">ф</text>
<text transform="translate(346.3 177.8) scale(0.800 1)" font-size="11.73" font-weight="bold" fill="#1c1c1c" stroke="#1c1c1c" stroke-width="0.55" textLength="17.9" lengthAdjust="spacing">50</text>
<text transform="translate(364.6 177.9) scale(0.750 1)" font-size="13.13" font-weight="bold" fill="#1c1c1c" stroke="#1c1c1c" stroke-width="0.7" textLength="21.3" lengthAdjust="spacing">мм</text>
<path d="M326.3 166.1 H393.8 L443.4 118.2" fill="none" stroke="#1c1c1c" stroke-width="1.0" stroke-linejoin="round" stroke-linecap="round"/>
<path d="M401.4 418.4 V370.0 L394.4 368.79999999999995 L393.4 367.79999999999995 V358.8 H529.5 V367.79999999999995 L528.5 368.79999999999995 L521.6 370.0 V418.4 Z" fill="none" stroke="#1c1c1c" stroke-width="1.8" stroke-linejoin="round" stroke-linecap="round"/>
<line x1="393.4" y1="358.8" x2="529.5" y2="358.8" stroke="#1c1c1c" stroke-width="2.0" stroke-linecap="butt"/>
<path d="M399.4 362.3 H523.5 L525.5 366.0 H397.4 Z" fill="#e2e2e2" stroke="none"/>
<path d="M398.9 362.3 H524.0" fill="none" stroke="#1c1c1c" stroke-width="0.9" stroke-linejoin="round" stroke-linecap="round"/>
<path d="M396.0 367.2 Q396.79999999999995 362.90000000000003 399.4 362.3 M526.9 367.2 Q526.1 362.90000000000003 523.5 362.3" fill="none" stroke="#1c1c1c" stroke-width="0.9" stroke-linejoin="round" stroke-linecap="round"/>
<path d="M397.9 366.0 H525.0" fill="none" stroke="#1c1c1c" stroke-width="1.0" stroke-dasharray="6 1.5 2.5 1.5" stroke-linejoin="round" stroke-linecap="round"/>
<line x1="400.4" y1="363.4" x2="522.5" y2="363.4" stroke="#8a8a8a" stroke-width="1.1" stroke-dasharray="1.6 2.3 0.9 3.1 2.6 1.7" stroke-linecap="butt"/>
<line x1="401.4" y1="364.9" x2="522.5" y2="364.9" stroke="#8a8a8a" stroke-width="1.1" stroke-dasharray="1.1 2.9 2.4 1.9 0.7 2.5" stroke-linecap="butt"/>
<circle cx="424.5" cy="372.7" r="5.0" fill="#fff" stroke="#1c1c1c" stroke-width="1.3"/>
<line x1="424.5" y1="347.0" x2="424.5" y2="381.0" stroke="#1c1c1c" stroke-width="0.8" stroke-dasharray="5 1.5 1.5 1.5" stroke-linecap="butt"/>
<circle cx="439.6" cy="372.7" r="5.0" fill="#fff" stroke="#1c1c1c" stroke-width="1.3"/>
<line x1="439.6" y1="347.0" x2="439.6" y2="381.0" stroke="#1c1c1c" stroke-width="0.8" stroke-dasharray="5 1.5 1.5 1.5" stroke-linecap="butt"/>
<circle cx="454.6" cy="372.7" r="5.0" fill="#fff" stroke="#1c1c1c" stroke-width="1.3"/>
<line x1="454.6" y1="347.0" x2="454.6" y2="381.0" stroke="#1c1c1c" stroke-width="0.8" stroke-dasharray="5 1.5 1.5 1.5" stroke-linecap="butt"/>
<circle cx="469.7" cy="372.7" r="5.0" fill="#fff" stroke="#1c1c1c" stroke-width="1.3"/>
<line x1="469.7" y1="347.0" x2="469.7" y2="381.0" stroke="#1c1c1c" stroke-width="0.8" stroke-dasharray="5 1.5 1.5 1.5" stroke-linecap="butt"/>
<circle cx="484.7" cy="372.7" r="5.0" fill="#fff" stroke="#1c1c1c" stroke-width="1.3"/>
<line x1="484.7" y1="347.0" x2="484.7" y2="381.0" stroke="#1c1c1c" stroke-width="0.8" stroke-dasharray="5 1.5 1.5 1.5" stroke-linecap="butt"/>
<circle cx="499.8" cy="372.7" r="5.0" fill="#fff" stroke="#1c1c1c" stroke-width="1.3"/>
<line x1="499.8" y1="347.0" x2="499.8" y2="381.0" stroke="#1c1c1c" stroke-width="0.8" stroke-dasharray="5 1.5 1.5 1.5" stroke-linecap="butt"/>
<line x1="417.0" y1="372.6" x2="507.0" y2="372.6" stroke="#1c1c1c" stroke-width="0.8" stroke-dasharray="8 2 2 2" stroke-linecap="butt"/>
<rect x="405.7" y="382.8" width="17.6" height="9.5" fill="#c4c4c4" stroke="#1c1c1c" stroke-width="1.6"/>
<line x1="414.5" y1="382.8" x2="414.5" y2="392.3" stroke="#1c1c1c" stroke-width="1.5" stroke-linecap="butt"/>
<path d="M406.9 384.2 L413.5 390.90000000000003 M406.9 390.90000000000003 L413.5 384.2" fill="none" stroke="#1c1c1c" stroke-width="1.0" stroke-linejoin="round" stroke-linecap="round"/>
<line x1="406.9" y1="384.4" x2="413.5" y2="384.4" stroke="#1c1c1c" stroke-width="1.0" stroke-linecap="butt"/>
<line x1="406.9" y1="390.7" x2="413.5" y2="390.7" stroke="#1c1c1c" stroke-width="1.0" stroke-linecap="butt"/>
<path d="M415.5 384.2 L422.1 390.90000000000003 M415.5 390.90000000000003 L422.1 384.2" fill="none" stroke="#1c1c1c" stroke-width="1.0" stroke-linejoin="round" stroke-linecap="round"/>
<line x1="415.5" y1="384.4" x2="422.1" y2="384.4" stroke="#1c1c1c" stroke-width="1.0" stroke-linecap="butt"/>
<line x1="415.5" y1="390.7" x2="422.1" y2="390.7" stroke="#1c1c1c" stroke-width="1.0" stroke-linecap="butt"/>
<rect x="500.0" y="383.5" width="17.6" height="8.7" fill="#c4c4c4" stroke="#1c1c1c" stroke-width="1.6"/>
<line x1="508.8" y1="383.5" x2="508.8" y2="392.2" stroke="#1c1c1c" stroke-width="1.5" stroke-linecap="butt"/>
<path d="M501.2 384.9 L507.8 390.8 M501.2 390.8 L507.8 384.9" fill="none" stroke="#1c1c1c" stroke-width="1.0" stroke-linejoin="round" stroke-linecap="round"/>
<line x1="501.2" y1="385.1" x2="507.8" y2="385.1" stroke="#1c1c1c" stroke-width="1.0" stroke-linecap="butt"/>
<line x1="501.2" y1="390.6" x2="507.8" y2="390.6" stroke="#1c1c1c" stroke-width="1.0" stroke-linecap="butt"/>
<path d="M509.8 384.9 L516.4 390.8 M509.8 390.8 L516.4 384.9" fill="none" stroke="#1c1c1c" stroke-width="1.0" stroke-linejoin="round" stroke-linecap="round"/>
<line x1="509.8" y1="385.1" x2="516.4" y2="385.1" stroke="#1c1c1c" stroke-width="1.0" stroke-linecap="butt"/>
<line x1="509.8" y1="390.6" x2="516.4" y2="390.6" stroke="#1c1c1c" stroke-width="1.0" stroke-linecap="butt"/>
<line x1="385.7" y1="342.2" x2="532.4" y2="343.2" stroke="#1c1c1c" stroke-width="1.0" stroke-linecap="butt"/>
<line x1="394.2" y1="335.5" x2="394.2" y2="355.3" stroke="#1c1c1c" stroke-width="1.0" stroke-linecap="butt"/>
<line x1="529.4" y1="336.4" x2="529.4" y2="354.7" stroke="#1c1c1c" stroke-width="1.0" stroke-linecap="butt"/>
<line x1="424.5" y1="335.8" x2="424.5" y2="347.0" stroke="#1c1c1c" stroke-width="1.0" stroke-linecap="butt"/>
<line x1="439.6" y1="335.8" x2="439.6" y2="347.0" stroke="#1c1c1c" stroke-width="1.0" stroke-linecap="butt"/>
<line x1="454.6" y1="335.8" x2="454.6" y2="347.0" stroke="#1c1c1c" stroke-width="1.0" stroke-linecap="butt"/>
<line x1="469.7" y1="335.8" x2="469.7" y2="347.0" stroke="#1c1c1c" stroke-width="1.0" stroke-linecap="butt"/>
<line x1="484.7" y1="335.8" x2="484.7" y2="347.0" stroke="#1c1c1c" stroke-width="1.0" stroke-linecap="butt"/>
<line x1="499.8" y1="335.8" x2="499.8" y2="347.0" stroke="#1c1c1c" stroke-width="1.0" stroke-linecap="butt"/>
<line x1="393.1" y1="343.4" x2="395.3" y2="341.2" stroke="#1c1c1c" stroke-width="1.4" stroke-linecap="round"/>
<line x1="423.4" y1="343.6" x2="425.6" y2="341.4" stroke="#1c1c1c" stroke-width="1.4" stroke-linecap="round"/>
<line x1="438.5" y1="343.7" x2="440.7" y2="341.5" stroke="#1c1c1c" stroke-width="1.4" stroke-linecap="round"/>
<line x1="453.5" y1="343.8" x2="455.7" y2="341.6" stroke="#1c1c1c" stroke-width="1.4" stroke-linecap="round"/>
<line x1="468.6" y1="343.9" x2="470.8" y2="341.7" stroke="#1c1c1c" stroke-width="1.4" stroke-linecap="round"/>
<line x1="483.6" y1="344.0" x2="485.8" y2="341.8" stroke="#1c1c1c" stroke-width="1.4" stroke-linecap="round"/>
<line x1="498.7" y1="344.1" x2="500.9" y2="341.9" stroke="#1c1c1c" stroke-width="1.4" stroke-linecap="round"/>
<line x1="528.3" y1="344.3" x2="530.5" y2="342.1" stroke="#1c1c1c" stroke-width="1.4" stroke-linecap="round"/>
<text transform="translate(402.3 338.4) scale(0.750 1)" font-size="11.59" font-weight="bold" fill="#1c1c1c" stroke="#1c1c1c" stroke-width="0.45" textLength="22.7" lengthAdjust="spacing">295</text>
<text transform="translate(505.3 338.9) scale(0.750 1)" font-size="11.59" font-weight="bold" fill="#1c1c1c" stroke="#1c1c1c" stroke-width="0.45" textLength="22.4" lengthAdjust="spacing">295</text>
<text transform="translate(426.0 338.9) scale(0.600 1)" font-size="10.20" font-weight="bold" fill="#1c1c1c" stroke="#1c1c1c" stroke-width="0.45" textLength="20.0" lengthAdjust="spacing">150</text>
<text transform="translate(441.2 338.9) scale(0.600 1)" font-size="10.20" font-weight="bold" fill="#1c1c1c" stroke="#1c1c1c" stroke-width="0.45" textLength="19.3" lengthAdjust="spacing">150</text>
<text transform="translate(456.6 338.9) scale(0.600 1)" font-size="10.20" font-weight="bold" fill="#1c1c1c" stroke="#1c1c1c" stroke-width="0.45" textLength="19.3" lengthAdjust="spacing">150</text>
<text transform="translate(471.6 338.9) scale(0.600 1)" font-size="10.20" font-weight="bold" fill="#1c1c1c" stroke="#1c1c1c" stroke-width="0.45" textLength="19.3" lengthAdjust="spacing">150</text>
<text transform="translate(486.1 338.9) scale(0.600 1)" font-size="10.20" font-weight="bold" fill="#1c1c1c" stroke="#1c1c1c" stroke-width="0.45" textLength="20.8" lengthAdjust="spacing">150</text>
<line x1="348.0" y1="351.5" x2="348.0" y2="424.8" stroke="#1c1c1c" stroke-width="1.0" stroke-linecap="butt"/>
<line x1="339.3" y1="358.4" x2="386.6" y2="358.4" stroke="#1c1c1c" stroke-width="1.0" stroke-linecap="butt"/>
<line x1="343.9" y1="386.2" x2="385.7" y2="386.2" stroke="#1c1c1c" stroke-width="1.0" stroke-linecap="butt"/>
<line x1="339.3" y1="418.3" x2="393.0" y2="418.3" stroke="#1c1c1c" stroke-width="1.0" stroke-linecap="butt"/>
<line x1="346.6" y1="359.8" x2="349.4" y2="357.0" stroke="#1c1c1c" stroke-width="1.5" stroke-linecap="round"/>
<line x1="346.6" y1="387.6" x2="349.4" y2="384.8" stroke="#1c1c1c" stroke-width="1.5" stroke-linecap="round"/>
<line x1="346.6" y1="419.7" x2="349.4" y2="416.9" stroke="#1c1c1c" stroke-width="1.5" stroke-linecap="round"/>
<text transform="translate(345.8 380.4) rotate(-90) scale(0.800 1)" font-size="11.73" font-weight="bold" fill="#1c1c1c" stroke="#1c1c1c" stroke-width="0.45" textLength="22.2" lengthAdjust="spacing">290</text>
<text transform="translate(345.8 409.2) rotate(-90) scale(0.783 1)" font-size="11.73" font-weight="bold" fill="#1c1c1c" stroke="#1c1c1c" stroke-width="0.45" textLength="20.2" lengthAdjust="spacing">310</text>
<line x1="369.0" y1="352.4" x2="369.0" y2="379.3" stroke="#1c1c1c" stroke-width="1.0" stroke-linecap="butt"/>
<line x1="361.5" y1="372.3" x2="399.6" y2="372.3" stroke="#1c1c1c" stroke-width="1.0" stroke-linecap="butt"/>
<line x1="367.9" y1="359.5" x2="370.1" y2="357.3" stroke="#1c1c1c" stroke-width="1.3" stroke-linecap="round"/>
<line x1="367.9" y1="373.4" x2="370.1" y2="371.2" stroke="#1c1c1c" stroke-width="1.3" stroke-linecap="round"/>
<text transform="translate(366.2 371.2) rotate(-90) scale(0.550 1)" font-size="11.73" font-weight="bold" fill="#1c1c1c" stroke="#1c1c1c" stroke-width="0.45" textLength="20.7" lengthAdjust="spacing">130</text>
<text transform="translate(435.8 397.6) scale(0.475 1)" font-size="12.85" font-weight="bold" fill="#1c1c1c" stroke="#1c1c1c" stroke-width="0.45" textLength="11.6" lengthAdjust="spacing">ф</text>
<text transform="translate(443.6 397.3) scale(0.720 1)" font-size="10.75" font-weight="bold" fill="#1c1c1c" stroke="#1c1c1c" stroke-width="0.45" textLength="20.0" lengthAdjust="spacing">100</text>
<path d="M428.2 400.3 H467.6 L495.8 352.3" fill="none" stroke="#1c1c1c" stroke-width="1.0" stroke-linejoin="round" stroke-linecap="round"/>
<path d="M476.4 385.4 L481.2 376.4 L482.6 377.3 Z" fill="#1c1c1c" stroke="#1c1c1c" stroke-width="0.6" stroke-linejoin="round" stroke-linecap="round"/>
<text transform="translate(363.4 428.5) scale(0.700 1)" font-size="11.73" font-weight="bold" fill="#1c1c1c" stroke="#1c1c1c" stroke-width="0.45" textLength="24.4" lengthAdjust="spacing">П-3</text>
<path d="M352.3 430.7 H385.7 L412.6 386.7" fill="none" stroke="#1c1c1c" stroke-width="1.0" stroke-linejoin="round" stroke-linecap="round"/>
<line x1="394.0" y1="348.0" x2="394.0" y2="466.6" stroke="#1c1c1c" stroke-width="1.0" stroke-dasharray="40 3 3 3" stroke-linecap="butt"/>
<line x1="529.4" y1="374.8" x2="529.4" y2="430.0" stroke="#1c1c1c" stroke-width="1.0" stroke-linecap="butt"/>
<line x1="530.3" y1="430.0" x2="530.3" y2="466.6" stroke="#1c1c1c" stroke-width="1.0" stroke-linecap="butt"/>
<line x1="401.4" y1="430.6" x2="401.4" y2="449.4" stroke="#1c1c1c" stroke-width="1.0" stroke-linecap="butt"/>
<line x1="520.9" y1="430.6" x2="520.9" y2="449.4" stroke="#1c1c1c" stroke-width="1.0" stroke-linecap="butt"/>
<line x1="390.4" y1="442.5" x2="533.0" y2="442.5" stroke="#1c1c1c" stroke-width="1.0" stroke-linecap="butt"/>
<line x1="388.9" y1="461.3" x2="534.4" y2="461.3" stroke="#1c1c1c" stroke-width="1.0" stroke-linecap="butt"/>
<line x1="392.6" y1="443.9" x2="395.4" y2="441.1" stroke="#1c1c1c" stroke-width="1.5" stroke-linecap="round"/>
<line x1="400.0" y1="443.9" x2="402.8" y2="441.1" stroke="#1c1c1c" stroke-width="1.5" stroke-linecap="round"/>
<line x1="519.5" y1="443.9" x2="522.3" y2="441.1" stroke="#1c1c1c" stroke-width="1.5" stroke-linecap="round"/>
<line x1="528.9" y1="443.9" x2="531.7" y2="441.1" stroke="#1c1c1c" stroke-width="1.5" stroke-linecap="round"/>
<line x1="392.6" y1="462.7" x2="395.4" y2="459.9" stroke="#1c1c1c" stroke-width="1.5" stroke-linecap="round"/>
<line x1="528.9" y1="462.7" x2="531.7" y2="459.9" stroke="#1c1c1c" stroke-width="1.5" stroke-linecap="round"/>
<text transform="translate(383.5 439.6) scale(0.600 1)" font-size="9.22" font-weight="bold" fill="#1c1c1c" stroke="#1c1c1c" stroke-width="0.45" textLength="11.5" lengthAdjust="spacing">75</text>
<text transform="translate(447.7 440.6) scale(0.800 1)" font-size="10.61" font-weight="bold" fill="#1c1c1c" stroke="#1c1c1c" stroke-width="0.45" textLength="30.9" lengthAdjust="spacing">1190</text>
<text transform="translate(534.4 440.6) scale(0.800 1)" font-size="10.61" font-weight="bold" fill="#1c1c1c" stroke="#1c1c1c" stroke-width="0.45" textLength="13.6" lengthAdjust="spacing">75</text>
<text transform="translate(447.7 458.8) scale(0.750 1)" font-size="11.03" font-weight="bold" fill="#1c1c1c" stroke="#1c1c1c" stroke-width="0.45" textLength="36.3" lengthAdjust="spacing">1340</text>
<text transform="translate(303.4 457.0) scale(0.720 1)" font-size="14.66" font-weight="normal" fill="#1c1c1c" stroke="#1c1c1c" stroke-width="0.75" textLength="112.2" lengthAdjust="spacing">НБ-12.22.6-2</text>
<text transform="translate(438.9 477.6) scale(0.561 1)" font-size="15.64" font-weight="normal" fill="#1c1c1c" stroke="#1c1c1c" stroke-width="0.8" textLength="11.6" lengthAdjust="spacing">П</text>
<text transform="translate(448.6 477.6) scale(0.600 1)" font-size="14.53" font-weight="normal" fill="#1c1c1c" stroke="#1c1c1c" stroke-width="0.8" textLength="9.0" lengthAdjust="spacing">о</text>
<text transform="translate(460.0 477.6) scale(0.700 1)" font-size="18.44" font-weight="normal" fill="#1c1c1c" stroke="#1c1c1c" stroke-width="0.85" textLength="32.4" lengthAdjust="spacing">1-1</text>
<text transform="translate(532.0 383.9) scale(0.700 1)" font-size="10.34" font-weight="bold" fill="#1c1c1c" stroke="#1c1c1c" stroke-width="0.45" textLength="12.7" lengthAdjust="spacing">30</text>
<line x1="522.0" y1="387.0" x2="536.9" y2="387.0" stroke="#1c1c1c" stroke-width="0.8" stroke-linecap="butt"/>
<line x1="523.8" y1="378.3" x2="523.8" y2="399.3" stroke="#1c1c1c" stroke-width="0.7" stroke-linecap="butt"/>
<line x1="526.9" y1="378.3" x2="526.9" y2="399.3" stroke="#1c1c1c" stroke-width="0.7" stroke-linecap="butt"/>
<text transform="translate(527.6 399.3) rotate(-90) scale(0.600 1)" font-size="6.15" font-weight="bold" fill="#1c1c1c" stroke="#1c1c1c" stroke-width="0.45" textLength="11.2" lengthAdjust="spacing">35</text>
<line x1="534.3" y1="359.4" x2="596.4" y2="359.4" stroke="#1c1c1c" stroke-width="1.0" stroke-linecap="butt"/>
<line x1="540.4" y1="368.6" x2="575.4" y2="368.6" stroke="#1c1c1c" stroke-width="0.9" stroke-linecap="butt"/>
<line x1="540.4" y1="370.3" x2="575.4" y2="370.3" stroke="#1c1c1c" stroke-width="0.9" stroke-linecap="butt"/>
<line x1="535.1" y1="418.5" x2="596.4" y2="418.5" stroke="#1c1c1c" stroke-width="1.0" stroke-linecap="butt"/>
<line x1="569.8" y1="352.9" x2="569.8" y2="425.5" stroke="#1c1c1c" stroke-width="1.0" stroke-linecap="butt"/>
<line x1="590.3" y1="353.8" x2="590.3" y2="426.4" stroke="#1c1c1c" stroke-width="1.0" stroke-linecap="butt"/>
<line x1="568.4" y1="360.8" x2="571.2" y2="358.0" stroke="#1c1c1c" stroke-width="1.5" stroke-linecap="round"/>
<line x1="588.9" y1="360.8" x2="591.7" y2="358.0" stroke="#1c1c1c" stroke-width="1.5" stroke-linecap="round"/>
<line x1="568.4" y1="370.9" x2="571.2" y2="368.1" stroke="#1c1c1c" stroke-width="1.5" stroke-linecap="round"/>
<line x1="568.4" y1="419.9" x2="571.2" y2="417.1" stroke="#1c1c1c" stroke-width="1.5" stroke-linecap="round"/>
<line x1="588.9" y1="419.9" x2="591.7" y2="417.1" stroke="#1c1c1c" stroke-width="1.5" stroke-linecap="round"/>
<text transform="translate(564.9 367.9) rotate(-90) scale(0.550 1)" font-size="6.56" font-weight="bold" fill="#1c1c1c" stroke="#1c1c1c" stroke-width="0.45" textLength="14.5" lengthAdjust="spacing">105</text>
<text transform="translate(581.2 367.9) rotate(-90) scale(0.678 1)" font-size="8.10" font-weight="bold" fill="#1c1c1c" stroke="#1c1c1c" stroke-width="0.45" textLength="9.3" lengthAdjust="spacing">15</text>
<text transform="translate(567.2 402.0) rotate(-90) scale(0.800 1)" font-size="11.73" font-weight="bold" fill="#1c1c1c" stroke="#1c1c1c" stroke-width="0.45" textLength="25.2" lengthAdjust="spacing">480</text>
<text transform="translate(587.7 396.8) rotate(-90) scale(0.800 1)" font-size="10.61" font-weight="bold" fill="#1c1c1c" stroke="#1c1c1c" stroke-width="0.45" textLength="22.1" lengthAdjust="spacing">600</text>
<path d="M667.5 103.8 L708.6 126.4 L812.5 65.6 L774.2 44.4" fill="none" stroke="#1c1c1c" stroke-width="1.7" stroke-linejoin="round" stroke-linecap="round"/>
<path d="M708.6 126.4 L709.5 345.3 L813.8 288 L812.5 65.6" fill="none" stroke="#1c1c1c" stroke-width="1.7" stroke-linejoin="round" stroke-linecap="round"/>
<path d="M667.5 103.8 L667.3 320.6 L709.5 345.3" fill="none" stroke="#1c1c1c" stroke-width="1.7" stroke-linejoin="round" stroke-linecap="round"/>
<path d="M648.7 100.2 L767.4 33.6 L777.1 38.7 L777.1 44.6 L773.6 44.4" fill="none" stroke="#1c1c1c" stroke-width="1.7" stroke-linejoin="round" stroke-linecap="round"/>
<path d="M772.4 41.4 L773.8 40.0 L777.1 41.6 M773.8 40 L768.6 36.9" fill="none" stroke="#1c1c1c" stroke-width="1.0" stroke-linejoin="round" stroke-linecap="round"/>
<path d="M648.7 100.2 L649.7 317.2 L657.4 322.5 Q659 323.5 660.6 323 L667.3 320.6" fill="none" stroke="#1c1c1c" stroke-width="1.7" stroke-linejoin="round" stroke-linecap="round"/>
<line x1="656.6" y1="99.6" x2="657.8" y2="322.5" stroke="#1c1c1c" stroke-width="1.2" stroke-linecap="butt"/>
<line x1="660.2" y1="102.6" x2="660.5" y2="323.0" stroke="#1c1c1c" stroke-width="1.2" stroke-linecap="butt"/>
<path d="M651.5 100.4 Q654 98.6 657.5 97.6 L768.6 36.0" fill="none" stroke="#1c1c1c" stroke-width="0.9" stroke-linejoin="round" stroke-linecap="round"/>
<path d="M660.3 102.6 L670 96.4 L740 56.2 L772.4 41.4" fill="none" stroke="#1c1c1c" stroke-width="1.5" stroke-linejoin="round" stroke-linecap="round"/>
<path d="M660.3 102.6 L667.5 103.6" fill="none" stroke="#1c1c1c" stroke-width="1.1" stroke-linejoin="round" stroke-linecap="round"/>
<line x1="662.0" y1="98.6" x2="768.0" y2="39.2" stroke="#2a2a2a" stroke-width="1.5" stroke-dasharray="7 2.5 3 2 10 3" stroke-linecap="butt"/>
<line x1="658.0" y1="104.0" x2="658.8" y2="321.0" stroke="#444" stroke-width="0.9" stroke-dasharray="1.6 2.3 0.9 3.1 2.2 1.7" stroke-linecap="butt"/>
<line x1="659.2" y1="105.0" x2="659.8" y2="321.0" stroke="#444" stroke-width="0.9" stroke-dasharray="1.1 2.9 2.0 1.9 0.7 2.5" stroke-linecap="butt"/>
<path d="M681.4 106.3 L695.6 98.8 L704.2 103.1 L690.5 111 Z" fill="none" stroke="#1c1c1c" stroke-width="1.3" stroke-linejoin="round" stroke-linecap="round"/>
<path d="M689.1999999999999 107.29999999999998 Q689.5999999999999 102.49999999999999 692.4 102.29999999999998 Q693.4 103.49999999999999 691.8 107.89999999999999" fill="none" stroke="#1c1c1c" stroke-width="1.5" stroke-linejoin="round" stroke-linecap="round"/>
<path d="M693.8 107.49999999999999 L697.4 101.69999999999999" fill="none" stroke="#1c1c1c" stroke-width="1.1" stroke-linejoin="round" stroke-linecap="round"/>
<path d="M682.6 106.5 L689.9 110.0" fill="none" stroke="#1c1c1c" stroke-width="1.9" stroke-linejoin="round" stroke-linecap="round"/>
<path d="M764.6 58 L777.7 51.2 L786.7 56.1 L774.2 63.7 Z" fill="none" stroke="#1c1c1c" stroke-width="1.3" stroke-linejoin="round" stroke-linecap="round"/>
<path d="M772.0500000000001 59.65 Q772.45 54.849999999999994 775.2500000000001 54.65 Q776.2500000000001 55.849999999999994 774.6500000000001 60.25" fill="none" stroke="#1c1c1c" stroke-width="1.5" stroke-linejoin="round" stroke-linecap="round"/>
<path d="M776.6500000000001 59.849999999999994 L780.2500000000001 54.05" fill="none" stroke="#1c1c1c" stroke-width="1.1" stroke-linejoin="round" stroke-linecap="round"/>
<path d="M765.8000000000001 58.2 L773.6 62.7" fill="none" stroke="#1c1c1c" stroke-width="1.9" stroke-linejoin="round" stroke-linecap="round"/>
<line x1="676.5" y1="129.2" x2="676.5" y2="153.7" stroke="#1c1c1c" stroke-width="1.0" stroke-linecap="butt"/>
<line x1="669.6" y1="137.7" x2="685.5" y2="146.6" stroke="#1c1c1c" stroke-width="1.0" stroke-linecap="butt"/>
<circle cx="676.5" cy="141.7" r="2.6" fill="#ddd" stroke="#1c1c1c" stroke-width="1.5"/>
<line x1="676.5" y1="177.6" x2="676.5" y2="202.1" stroke="#1c1c1c" stroke-width="1.0" stroke-linecap="butt"/>
<line x1="669.6" y1="186.1" x2="685.5" y2="195.0" stroke="#1c1c1c" stroke-width="1.0" stroke-linecap="butt"/>
<circle cx="676.5" cy="190.1" r="2.6" fill="#ddd" stroke="#1c1c1c" stroke-width="1.5"/>
<line x1="676.5" y1="227.7" x2="676.5" y2="252.2" stroke="#1c1c1c" stroke-width="1.0" stroke-linecap="butt"/>
<line x1="669.6" y1="236.2" x2="685.5" y2="245.1" stroke="#1c1c1c" stroke-width="1.0" stroke-linecap="butt"/>
<circle cx="676.5" cy="240.2" r="2.6" fill="#ddd" stroke="#1c1c1c" stroke-width="1.5"/>
<line x1="676.5" y1="276.8" x2="676.5" y2="301.3" stroke="#1c1c1c" stroke-width="1.0" stroke-linecap="butt"/>
<line x1="669.6" y1="285.3" x2="685.5" y2="294.2" stroke="#1c1c1c" stroke-width="1.0" stroke-linecap="butt"/>
<circle cx="676.5" cy="289.3" r="2.6" fill="#ddd" stroke="#1c1c1c" stroke-width="1.5"/>
<line x1="620.5" y1="86.2" x2="748.2" y2="13.2" stroke="#1c1c1c" stroke-width="1.0" stroke-linecap="butt"/>
<line x1="613.4" y1="80.7" x2="644.2" y2="98.2" stroke="#1c1c1c" stroke-width="1.0" stroke-linecap="butt"/>
<line x1="733.5" y1="13.4" x2="759.5" y2="28.9" stroke="#1c1c1c" stroke-width="1.0" stroke-linecap="butt"/>
<line x1="621.5" y1="86.5" x2="624.1" y2="83.9" stroke="#1c1c1c" stroke-width="1.5" stroke-linecap="round"/>
<line x1="738.9" y1="17.9" x2="741.5" y2="15.3" stroke="#1c1c1c" stroke-width="1.5" stroke-linecap="round"/>
<text transform="translate(665.2 56.2) rotate(-29.5) scale(0.750 1)" font-size="11.17" font-weight="bold" fill="#1c1c1c" stroke="#1c1c1c" stroke-width="0.45" textLength="33.6" lengthAdjust="spacing">1340</text>
<line x1="616.6" y1="108.9" x2="617.2" y2="341.4" stroke="#1c1c1c" stroke-width="1.0" stroke-linecap="butt"/>
<line x1="603.2" y1="126.3" x2="640.2" y2="104.9" stroke="#1c1c1c" stroke-width="1.0" stroke-linecap="butt"/>
<line x1="615.4" y1="120.9" x2="618.0" y2="118.3" stroke="#1c1c1c" stroke-width="1.5" stroke-linecap="round"/>
<line x1="615.8" y1="339.4" x2="618.4" y2="336.8" stroke="#1c1c1c" stroke-width="1.5" stroke-linecap="round"/>
<text transform="translate(614.2 241.0) rotate(-90) scale(0.850 1)" font-size="11.59" font-weight="bold" fill="#1c1c1c" stroke="#1c1c1c" stroke-width="0.5" textLength="35.2" lengthAdjust="spacing">2180</text>
<line x1="612.4" y1="340.2" x2="639.9" y2="323.6" stroke="#1c1c1c" stroke-width="1.0" stroke-linecap="butt"/>
<line x1="664.9" y1="371.1" x2="701.3" y2="351.0" stroke="#1c1c1c" stroke-width="1.0" stroke-linecap="butt"/>
<line x1="614.5" y1="336.7" x2="672.5" y2="370.0" stroke="#1c1c1c" stroke-width="1.0" stroke-linecap="butt"/>
<line x1="669.1" y1="370.1" x2="671.7" y2="367.5" stroke="#1c1c1c" stroke-width="1.5" stroke-linecap="round"/>
<text transform="translate(638.6 348.4) rotate(30) scale(0.950 1)" font-size="11.17" font-weight="bold" fill="#1c1c1c" stroke="#1c1c1c" stroke-width="0.5" textLength="23.7" lengthAdjust="spacing">600</text>
<line x1="680.0" y1="386.6" x2="831.0" y2="386.6" stroke="#f0f0f0" stroke-width="1.2" stroke-dasharray="6 3 14 4 9 5" stroke-linecap="butt"/>
</g>
</svg>
</body></html>
